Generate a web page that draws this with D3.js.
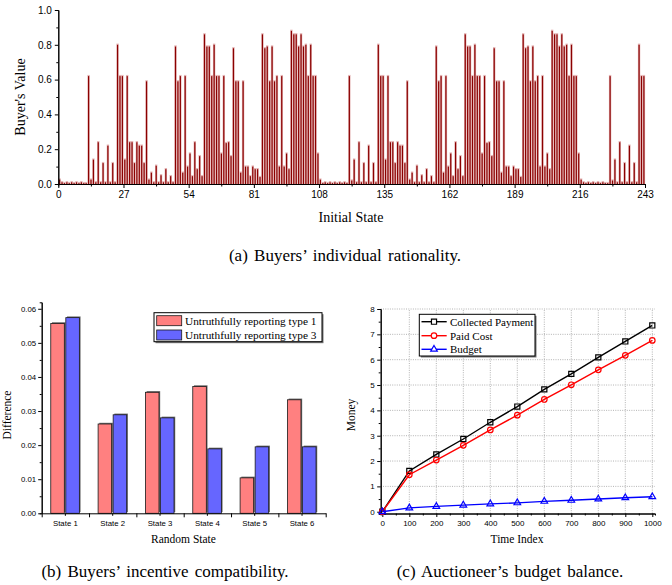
<!DOCTYPE html>
<html>
<head>
<meta charset="utf-8">
<script src="https://cdn.jsdelivr.net/npm/d3@7"></script>
<style>
body { margin: 0; background: #fff; }
svg text { font-family: "Liberation Sans", Arial, sans-serif; }
svg .serif { font-family: "Liberation Serif", "Times New Roman", serif; }
</style>
</head>
<body>
<svg id="fig" width="672" height="585"></svg>
<script>
// (a) buyer's value for each initial state, states 1..243
const stateTicks = [0, 27, 54, 81, 108, 135, 162, 189, 216, 243];
const buyerA = [0.025,0.01,0.005,0.01,0.005,0.01,0.005,0.01,0.005,0.01,0.005,0.005,
  0.62,0.025,0.14,0.01,0.24,0.01,0.12,0.01,0.22,0.01,0.12,0.01,0.80,0.62,0.62,
  0.14,0.62,0.24,0.24,0.12,0.24,0.22,0.22,0.12,0.59,0.025,0.065,0.01,0.105,0.01,0.05,0.01,0.085,0.01,0.045,0.01,
  0.79,0.59,0.62,0.065,0.62,0.10,0.175,0.045,0.24,0.085,0.16,0.045,
  0.86,0.79,0.79,0.62,0.80,0.62,0.62,0.175,0.62,0.235,0.24,0.16,
  0.78,0.59,0.59,0.065,0.59,0.10,0.10,0.045,0.10,0.085,0.085,0.04,
  0.86,0.78,0.79,0.59,0.79,0.59,0.62,0.10,0.62,0.10,0.175,0.085,
  0.88,0.86,0.86,0.79,0.86,0.79,0.80,0.62,0.80,0.62,0.62,0.175];
const buyerB = [0.025,0.005,0.01,0.005,0.01,0.005,0.01,0.005,0.01,0.005,0.01,0.005,
  0.62,0.02,0.14,0.01,0.24,0.01,0.12,0.01,0.22,0.01,0.12,0.01,0.80,0.62,0.62,
  0.14,0.62,0.24,0.24,0.12,0.24,0.22,0.22,0.12,0.59,0.025,0.065,0.01,0.105,0.01,0.05,0.01,0.085,0.01,0.045,0.01,
  0.79,0.59,0.62,0.065,0.62,0.10,0.175,0.045,0.24,0.085,0.16,0.045,
  0.86,0.79,0.79,0.62,0.80,0.62,0.62,0.175,0.62,0.235,0.24,0.16,
  0.78,0.59,0.59,0.065,0.59,0.10,0.10,0.045,0.10,0.085,0.085,0.04,
  0.86,0.78,0.79,0.59,0.79,0.59,0.62,0.10,0.62,0.10,0.175,0.085,
  0.88,0.86,0.86,0.79,0.86,0.79,0.80,0.62,0.80,0.62,0.62,0.175];
const buyerC = [0.025,0.01,0.005,0.01,0.005,0.01,0.005,0.01,0.005,0.01,0.005,0.005,
  0.62,0.02,0.14,0.01,0.24,0.01,0.12,0.01,0.22,0.01,0.12,0.01,0.80,0.62,0.62];
const buyerValues = buyerA.concat(buyerB, buyerC);

// (b) incentive compatibility
const states = ["State 1", "State 2", "State 3", "State 4", "State 5", "State 6"];
const diffType1 = [0.0557, 0.0262, 0.0355, 0.0372, 0.0104, 0.0333];
const diffType3 = [0.0574, 0.0289, 0.0280, 0.0189, 0.0195, 0.0195];

// (c) budget balance
const timeIndex = [0, 100, 200, 300, 400, 500, 600, 700, 800, 900, 1000];
const payment = [0, 1.61, 2.26, 2.87, 3.53, 4.15, 4.83, 5.44, 6.09, 6.72, 7.35];
const paidCost = [0, 1.46, 2.04, 2.62, 3.23, 3.81, 4.43, 5.01, 5.60, 6.17, 6.76];
const budget = [0, 0.15, 0.21, 0.26, 0.31, 0.35, 0.41, 0.45, 0.50, 0.55, 0.59];

const svg = d3.select("#fig");

const styleAxis = (g, size) => {
    g.select(".domain").attr("stroke", "#000").attr("stroke-width", 1);
    g.selectAll(".tick line").attr("stroke", "#000");
    g.selectAll(".tick text").attr("fill", "#000").style("font-size", size + "px");
};

//---------------- (a) ----------------
const xA = d3.scaleLinear().domain([0, 243]).range([58.3, 645]);
const yA = d3.scaleLinear().domain([0, 1]).range([184, 10]);
const gA = svg.append("g");

gA.selectAll("rect.halo")
    .data(buyerValues)
    .join("rect")
    .attr("class", "halo")
    .attr("x", (d, i) => xA(i + 1) - 2.3)
    .attr("width", 2.4)
    .attr("y", d => yA(d) - 1.2)
    .attr("height", d => yA(0) - yA(d) + 1.2)
    .attr("fill", "#e4b4b4");

gA.selectAll("rect.core")
    .data(buyerValues)
    .join("rect")
    .attr("class", "core")
    .attr("x", (d, i) => xA(i + 1) - 1.7)
    .attr("width", 1.2)
    .attr("y", d => yA(d))
    .attr("height", d => yA(0) - yA(d))
    .attr("fill", "#8b0000");

// minor ticks first so the major axis sits on top
gA.append("g")
    .attr("transform", "translate(0," + yA(0) + ")")
    .call(d3.axisBottom(xA).tickValues(d3.range(13.5, 243, 27)).tickSize(2.5).tickFormat(""))
    .call(g => styleAxis(g, 10));
gA.append("g")
    .attr("transform", "translate(0," + yA(0) + ")")
    .call(d3.axisBottom(xA).tickValues(stateTicks).tickSize(4).tickPadding(3).tickSizeOuter(0))
    .call(g => styleAxis(g, 10));
gA.append("g")
    .attr("transform", "translate(" + xA(0) + ",0)")
    .call(d3.axisLeft(yA).tickValues([0.1, 0.3, 0.5, 0.7, 0.9]).tickSize(2).tickFormat(""))
    .call(g => styleAxis(g, 10));
gA.append("g")
    .attr("transform", "translate(" + xA(0) + ",0)")
    .call(d3.axisLeft(yA).tickValues([0, 0.2, 0.4, 0.6, 0.8, 1.0]).tickFormat(d3.format(".1f")).tickSize(3.5).tickPadding(3).tickSizeOuter(0))
    .call(g => styleAxis(g, 10));

gA.append("text").attr("class", "serif")
    .attr("x", 351).attr("y", 222).attr("text-anchor", "middle")
    .style("font-size", "14px").text("Initial State");
gA.append("text").attr("class", "serif")
    .attr("transform", "translate(25,97) rotate(-90)").attr("text-anchor", "middle")
    .style("font-size", "14px").text("Buyer's Value");
svg.append("text").attr("class", "serif")
    .attr("x", 345).attr("y", 261).attr("text-anchor", "middle")
    .style("font-size", "17px").style("word-spacing", "2px")
    .text("(a) Buyers\u2019 individual rationality.");

//---------------- (b) ----------------
const xB = d3.scaleBand().domain(states).range([41.7, 325.7]);
const subB = d3.scaleBand().domain(["t1", "t3"]).range([-14.6, 14.0]).paddingInner(0.1);
const yB = d3.scaleLinear().domain([0, 0.0619]).range([513.3, 302.3]);
const gB = svg.append("g");
const colorT1 = "#ff8080", colorT3 = "#6666ff";

const barsB = [];
states.forEach((s, i) => {
    barsB.push({ state: s, key: "t1", value: diffType1[i], color: colorT1 });
    barsB.push({ state: s, key: "t3", value: diffType3[i], color: colorT3 });
});
const bx = d => xB(d.state) + xB.bandwidth() / 2 + subB(d.key);

gB.selectAll("rect.shadow")
    .data(barsB)
    .join("rect")
    .attr("class", "shadow")
    .attr("x", d => bx(d) + 1.2)
    .attr("y", d => yB(d.value) - 1.2)
    .attr("width", subB.bandwidth())
    .attr("height", d => yB(0) - yB(d.value))
    .attr("fill", "#6a6a6a");
gB.selectAll("rect.bar")
    .data(barsB)
    .join("rect")
    .attr("class", "bar")
    .attr("x", d => bx(d))
    .attr("y", d => yB(d.value))
    .attr("width", subB.bandwidth())
    .attr("height", d => yB(0) - yB(d.value))
    .attr("fill", d => d.color)
    .attr("stroke", "#1a1a1a")
    .attr("stroke-width", 0.8);

gB.append("g")
    .attr("transform", "translate(" + xB.range()[0] + ",0)")
    .call(d3.axisLeft(yB).tickValues(d3.range(0.005, 0.06, 0.01)).tickSize(2).tickFormat(""))
    .call(g => styleAxis(g, 8));
gB.append("g")
    .attr("transform", "translate(" + xB.range()[0] + ",0)")
    .call(d3.axisLeft(yB).tickValues(d3.range(0, 0.061, 0.01)).tickFormat(d3.format(".2f")).tickSize(3.5).tickPadding(2).tickSizeOuter(0))
    .call(g => styleAxis(g, 7.8));
// category boundaries as ticks, labels at band centres
const xBlin = d3.scaleLinear().domain([0, 6]).range(xB.range());
gB.append("g")
    .attr("transform", "translate(0," + yB(0) + ")")
    .call(d3.axisBottom(xBlin).ticks(6).tickSize(4).tickFormat("").tickSizeOuter(0))
    .call(g => styleAxis(g, 8));
gB.append("g")
    .attr("transform", "translate(0," + yB(0) + ")")
    .call(d3.axisBottom(xB).tickSize(2.5).tickPadding(4.5).tickSizeOuter(0))
    .call(g => styleAxis(g, 7.8))
    .call(g => g.select(".domain").remove());

gB.append("text").attr("class", "serif")
    .attr("x", 183.5).attr("y", 543).attr("text-anchor", "middle")
    .style("font-size", "11.5px").text("Random State");
gB.append("text").attr("class", "serif")
    .attr("transform", "translate(11,415) rotate(-90)").attr("text-anchor", "middle")
    .style("font-size", "11.5px").text("Difference");

const legB = gB.append("g");
legB.append("rect").attr("x", 155.5).attr("y", 314.2).attr("width", 168).attr("height", 29).attr("fill", "#777");
legB.append("rect").attr("x", 154).attr("y", 312.7).attr("width", 168).attr("height", 29)
    .attr("fill", "#fff").attr("stroke", "#000").attr("stroke-width", 1);
const legBItems = [
    { label: "Untruthfully reporting type 1", color: colorT1, y: 315.7 },
    { label: "Untruthfully reporting type 3", color: colorT3, y: 330 }
];
legB.selectAll("rect.sw")
    .data(legBItems)
    .join("rect")
    .attr("class", "sw")
    .attr("x", 156.7).attr("y", d => d.y).attr("width", 25).attr("height", 10)
    .attr("fill", d => d.color).attr("stroke", "#1a1a1a").attr("stroke-width", 0.8);
legB.selectAll("text")
    .data(legBItems)
    .join("text")
    .attr("class", "serif")
    .attr("x", 185).attr("y", d => d.y + 8.8)
    .style("font-size", "11.3px")
    .text(d => d.label);

svg.append("text").attr("class", "serif")
    .attr("x", 165).attr("y", 577).attr("text-anchor", "middle")
    .style("font-size", "17px").style("word-spacing", "2px")
    .text("(b) Buyers\u2019 incentive compatibility.");

//---------------- (c) ----------------
const xC = d3.scaleLinear().domain([-6, 1010]).range([380.7, 655]);
const yC = d3.scaleLinear().domain([-0.07, 8]).range([513.5, 309]);
const gC = svg.append("g");

gC.append("g")
    .selectAll("line")
    .data(d3.range(100, 1001, 100))
    .join("line")
    .attr("x1", d => xC(d)).attr("x2", d => xC(d))
    .attr("y1", yC.range()[0]).attr("y2", yC.range()[1])
    .attr("stroke", "#aaa").attr("stroke-width", 0.9).attr("stroke-dasharray", "1,1.3");
gC.append("g")
    .selectAll("line")
    .data(d3.range(1, 9))
    .join("line")
    .attr("x1", xC.range()[0]).attr("x2", xC.range()[1])
    .attr("y1", d => yC(d)).attr("y2", d => yC(d))
    .attr("stroke", "#aaa").attr("stroke-width", 0.9).attr("stroke-dasharray", "1,1.3");

gC.append("g")
    .attr("transform", "translate(0," + yC.range()[0] + ")")
    .call(d3.axisBottom(xC).tickValues(d3.range(50, 1000, 100)).tickSize(2).tickFormat(""))
    .call(g => styleAxis(g, 8));
gC.append("g")
    .attr("transform", "translate(0," + yC.range()[0] + ")")
    .call(d3.axisBottom(xC).tickValues(timeIndex).tickFormat(d3.format("d")).tickSize(3.5).tickPadding(3).tickSizeOuter(0))
    .call(g => styleAxis(g, 8));
gC.append("g")
    .attr("transform", "translate(" + xC.range()[0] + ",0)")
    .call(d3.axisLeft(yC).tickValues(d3.range(0.5, 8, 1)).tickSize(2).tickFormat(""))
    .call(g => styleAxis(g, 8));
gC.append("g")
    .attr("transform", "translate(" + xC.range()[0] + ",0)")
    .call(d3.axisLeft(yC).tickValues(d3.range(0, 9)).tickFormat(d3.format("d")).tickSize(3.5).tickPadding(2.5).tickSizeOuter(0))
    .call(g => styleAxis(g, 8));

const seriesC = [
    { name: "Collected Payment", values: payment, color: "#000", shape: d3.symbolSquare, size: 26 },
    { name: "Paid Cost", values: paidCost, color: "#ff0000", shape: d3.symbolCircle, size: 24 },
    { name: "Budget", values: budget, color: "#0000ff", shape: d3.symbolTriangle, size: 19 }
];
const lineC = d3.line().x((d, i) => xC(timeIndex[i])).y(d => yC(d));

seriesC.forEach(s => {
    gC.append("path")
        .attr("d", lineC(s.values))
        .attr("fill", "none").attr("stroke", s.color).attr("stroke-width", 1.4);
    gC.append("g")
        .selectAll("path")
        .data(s.values)
        .join("path")
        .attr("transform", (d, i) => "translate(" + xC(timeIndex[i]) + "," + yC(d) + ")")
        .attr("d", d3.symbol().type(s.shape).size(s.size))
        .attr("fill", "none").attr("stroke", s.color).attr("stroke-width", 1.2);
});

gC.append("text").attr("class", "serif")
    .attr("x", 517).attr("y", 543).attr("text-anchor", "middle")
    .style("font-size", "11.5px").text("Time Index");
gC.append("text").attr("class", "serif")
    .attr("transform", "translate(354.5,415) rotate(-90)").attr("text-anchor", "middle")
    .style("font-size", "11.5px").text("Money");

const legC = gC.append("g");
legC.append("rect").attr("x", 420.8).attr("y", 315.8).attr("width", 115.7).attr("height", 41.7).attr("fill", "#777");
legC.append("rect").attr("x", 419.3).attr("y", 314.3).attr("width", 115.7).attr("height", 41.7)
    .attr("fill", "#fff").attr("stroke", "#000").attr("stroke-width", 1);
const legCy = [321.7, 335.7, 349.3];
seriesC.forEach((s, i) => {
    const y = legCy[i];
    legC.append("line").attr("x1", 421.5).attr("x2", 446.7).attr("y1", y).attr("y2", y)
        .attr("stroke", s.color).attr("stroke-width", 1.4);
    legC.append("path").attr("transform", "translate(434," + y + ")")
        .attr("d", d3.symbol().type(s.shape).size(s.size))
        .attr("fill", "#fff").attr("stroke", s.color).attr("stroke-width", 1.2);
    legC.append("text").attr("class", "serif")
        .attr("x", 450).attr("y", y + 3.8)
        .style("font-size", "11px").text(s.name);
});

svg.append("text").attr("class", "serif")
    .attr("x", 510).attr("y", 577).attr("text-anchor", "middle")
    .style("font-size", "17px").style("word-spacing", "2px")
    .text("(c) Auctioneer\u2019s budget balance.");
</script>
</body>
</html>
